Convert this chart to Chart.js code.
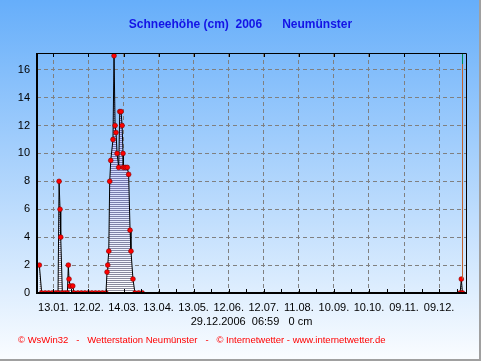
<!DOCTYPE html>
<html>
<head>
<meta charset="utf-8">
<script src="https://cdn.jsdelivr.net/npm/chart.js@4.4.1/dist/chart.umd.min.js"></script>
<style>
html, body { margin: 0; padding: 0; background: #fff; }
canvas { display: block; }
</style>
</head>
<body>
<canvas id="chart" width="481" height="361"></canvas>
<script>
"use strict"

// Tag im Jahr (1 = 01.01.) und Schneehoehe in cm
const days = [1, 3, 6, 9, 12, 15, 17, 17.9, 18.7, 19.3, 20.7, 23, 25, 25.8, 26.4, 27.3, 29.6, 30.7,
    34, 37, 40, 43, 46, 49, 52, 55, 58,
    58.9, 59.5, 60.4, 61.2, 62.1, 64, 64.9, 65.8, 66.6, 67.5, 68.9, 69.8, 70.9, 71.8, 72.6, 72.8,
    74.5, 76.2, 77.4, 78.6, 79.4, 81.1, 82.8, 86, 89, 361, 362, 363];
const snow = [2, 0, 0, 0, 0, 0, 0, 8, 6, 4, 0, 0, 0, 2, 1, 0.5, 0.5, 0,
    0, 0, 0, 0, 0, 0, 0, 0, 0,
    1.5, 2, 3, 8, 9.5, 11, 17, 12, 11.5, 10, 9, 13, 13, 12, 10, 9,
    9, 9, 8.5, 4.5, 3, 1, 0, 0, 0, 0, 1, 0];

const yTicks = [0, 2, 4, 6, 8, 10, 12, 14, 16];
const xTickDays = [13, 43, 73, 103, 133, 163, 193, 223, 253, 283, 313, 343];
const xTickLabels = ["13.01.", "12.02.", "14.03.", "13.04.", "13.05.", "12.06.",
    "12.07.", "11.08.", "10.09.", "10.10.", "09.11.", "09.12."];

const titleText = "Schneehöhe (cm)  2006      Neumünster";
const dateText = "29.12.2006  06:59   0 cm";
const footerText = "© WsWin32   -   Wetterstation Neumünster   -   © Internetwetter - www.internetwetter.de";
const nowDay = 363;

const fontFamily = 'Arial, "Liberation Sans", sans-serif';

let mix = function(a, b, t){
    return a.map((v, i) => Math.round(v + (b[i] - v) * t));
}

// horizontale Schraffur fuer die Flaeche
let makeHatch = function(ctx){
    const c = document.createElement("canvas");
    c.width = 1;
    c.height = 361;
    const g = c.getContext("2d");
    for (let yy = 0; yy < 361; yy++) {
        const t = Math.min(1, Math.max(0, (yy - 55) / 238));
        let col;
        if (yy % 2 === 0)
            col = mix([95, 105, 200], [140, 140, 155], t);
        else
            col = mix([170, 185, 252], [255, 255, 255], t);
        g.fillStyle = "rgb(" + col.join(",") + ")";
        g.fillRect(0, yy, 1, 1);
    }
    return ctx.createPattern(c, "repeat");
}

const backgroundPlugin = {
    id: "background",
    beforeDraw(chart) {
        const ctx = chart.ctx;
        const g = ctx.createLinearGradient(0, 0, 0, chart.height);
        g.addColorStop(0, "#66aefa");
        g.addColorStop(1, "#fbfdff");
        ctx.save();
        ctx.fillStyle = g;
        ctx.fillRect(0, 0, chart.width, chart.height);
        ctx.restore();
    }
};

const framePlugin = {
    id: "frame",
    afterDraw(chart) {
        const ctx = chart.ctx;
        const a = chart.chartArea;
        const x = chart.scales.x;
        const y = chart.scales.y;
        const L = Math.round(a.left), R = Math.round(a.right);
        const T = Math.round(a.top), B = Math.round(a.bottom);
        ctx.save();

        // aktueller Tag
        const xn = Math.round(x.getPixelForValue(nowDay)) + 0.5;
        ctx.lineWidth = 1;
        ctx.strokeStyle = "#c0602a";
        ctx.beginPath();
        ctx.moveTo(xn, T);
        ctx.lineTo(xn, y.getPixelForValue(1));
        ctx.stroke();
        ctx.strokeStyle = "#00884a";
        ctx.beginPath();
        ctx.moveTo(xn, T);
        ctx.lineTo(xn, T + 11);
        ctx.stroke();

        // Rahmen
        ctx.strokeStyle = "#000";
        ctx.beginPath();
        ctx.moveTo(L, T + 0.5);
        ctx.lineTo(R + 0.5, T + 0.5);
        ctx.lineTo(R + 0.5, B);
        ctx.stroke();
        ctx.fillStyle = "#000";
        ctx.fillRect(L - 1, T, 2, B - T + 1);
        ctx.fillRect(L - 1, B - 1, R - L + 2, 2);

        // kleine Striche oben und unten
        ctx.beginPath();
        xTickDays.forEach(d => {
            const px = Math.round(x.getPixelForValue(d)) + 0.5;
            ctx.moveTo(px, T);
            ctx.lineTo(px, T + 4);
            [d, d + 15].forEach(m => {
                if (m > x.max) return;
                const pm = Math.round(x.getPixelForValue(m)) + 0.5;
                ctx.moveTo(pm, B);
                ctx.lineTo(pm, B - 4);
            });
        });
        ctx.stroke();

        // Fusszeile
        ctx.fillStyle = "#ff0000";
        ctx.font = "9.5px " + fontFamily;
        ctx.textBaseline = "middle";
        ctx.textAlign = "left";
        ctx.fillText(footerText, 18, 340);

        // aeusserer Rand
        ctx.fillStyle = "#a0a0a0";
        ctx.fillRect(479, 0, 2, chart.height);
        ctx.fillRect(0, 359, chart.width, 2);
        ctx.restore();
    }
};

window.onload = function (){
    const canvas = document.getElementById("chart");
    const hatch = makeHatch(canvas.getContext("2d"));

    const points = days.map((d, i) => ({ x: d, y: snow[i] }));

    new Chart(canvas, {
        type: "line",
        data: {
            datasets: [{
                data: points,
                borderColor: "#000",
                borderWidth: 1,
                fill: "origin",
                backgroundColor: hatch,
                tension: 0,
                pointRadius: 2.4,
                pointBackgroundColor: "#ff0000",
                pointBorderColor: "#800000",
                pointBorderWidth: 0.6
            }]
        },
        options: {
            responsive: false,
            animation: false,
            devicePixelRatio: 1,
            layout: { padding: 0 },
            plugins: {
                legend: { display: false },
                tooltip: { enabled: false },
                title: {
                    display: true,
                    text: titleText,
                    color: "#1414e6",
                    font: { family: fontFamily, size: 12, weight: "bold" },
                    padding: { top: 17, bottom: 21.6 }
                }
            },
            scales: {
                x: {
                    type: "linear",
                    min: -1,
                    max: 366,
                    afterBuildTicks: s => { s.ticks = xTickDays.map(v => ({ value: v })); },
                    afterFit: s => { s.height = 68; },
                    ticks: {
                        callback: (v, i) => xTickLabels[i],
                        color: "#000",
                        font: { family: fontFamily, size: 11 },
                        padding: 8,
                        maxRotation: 0,
                        autoSkip: false
                    },
                    grid: { color: "#808080", drawTicks: false },
                    border: { display: false, dash: [4, 3] },
                    title: {
                        display: true,
                        text: dateText,
                        color: "#000",
                        font: { family: fontFamily, size: 11 },
                        padding: { top: 0, bottom: 32 }
                    }
                },
                y: {
                    min: 0,
                    max: 17.2,
                    afterBuildTicks: s => { s.ticks = yTicks.map(v => ({ value: v })); },
                    afterFit: s => { s.width = 37; },
                    ticks: {
                        color: "#000",
                        font: { family: fontFamily, size: 11 },
                        padding: 7
                    },
                    grid: { color: "#808080", drawTicks: false },
                    border: { display: false, dash: [4, 3] }
                },
                y2: {
                    position: "right",
                    grid: { display: false },
                    ticks: { display: false },
                    border: { display: false },
                    afterFit: s => { s.width = 15; }
                }
            }
        },
        plugins: [backgroundPlugin, framePlugin]
    });
}
</script>
</body>
</html>
